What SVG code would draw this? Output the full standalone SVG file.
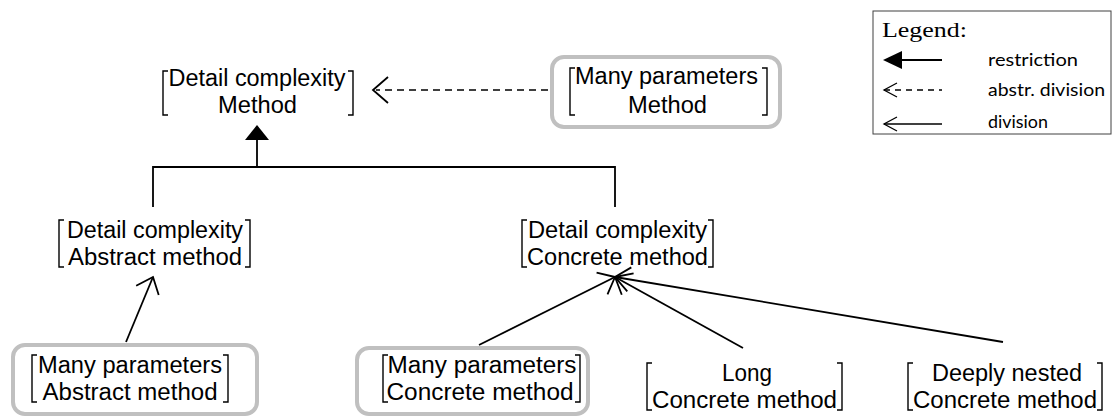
<svg xmlns="http://www.w3.org/2000/svg" width="1113" height="416" viewBox="0 0 1113 416">
<defs>
<style>
.t{font-family:"Liberation Sans",Arial,sans-serif;font-size:23px;fill:#000;text-anchor:middle}
.br{fill:none;stroke:#000;stroke-width:1.4}
.box{fill:none;stroke:#c0c0c0;stroke-width:4}
.ln{fill:none;stroke:#000;stroke-width:1.8}
.dash{fill:none;stroke:#000;stroke-width:1.5;stroke-dasharray:7,5}
.lg{font-family:Lato,"Open Sans",sans-serif;font-size:17px;fill:#000}
.lt{font-family:"Liberation Serif","Times New Roman",serif;font-size:21px;fill:#000}
</style>
<marker id="open" markerUnits="userSpaceOnUse" markerWidth="40" markerHeight="40" viewBox="-20 -20 40 40" refX="0" refY="0" orient="auto">
<path d="M-14.5,-12.2 L0,0 L-14.5,12.2" fill="none" stroke="#000" stroke-width="1.8"/>
</marker>
</defs>
<rect width="1113" height="416" fill="#fff"/>

<g id="connectors">
<path class="dash" d="M548,90 L376,90"/>
<path d="M388,77 L373,90 L388,103" class="ln" stroke-width="1.5"/>
<path d="M257,125 L245,140 L269,140 Z" fill="#000"/>
<path class="ln" d="M257,140 L257,167 M153,207 L153,167 L615,167 L615,207"/>
<path class="ln" d="M126,342 L153,277" marker-end="url(#open)"/>
<path class="ln" d="M479,345 L615,277" marker-end="url(#open)"/>
<path class="ln" d="M743,348 L615,277" marker-end="url(#open)"/>
<path class="ln" d="M1003,342 L615,277" marker-end="url(#open)"/>
</g>

<g id="node-dc-method">
<path class="br" d="M168,71 L163,71 L163,115 L168,115 M348,71 L353,71 L353,115 L348,115"/>
<text class="t" x="257" y="86" textLength="177" lengthAdjust="spacingAndGlyphs">Detail complexity</text>
<text class="t" x="257.5" y="113" textLength="79" lengthAdjust="spacingAndGlyphs">Method</text>
</g>

<g id="node-mp-method">
<rect class="box" x="552" y="57" width="228" height="70" rx="12"/>
<path class="br" d="M575,68 L570,68 L570,115 L575,115 M762,68 L767,68 L767,115 L762,115"/>
<text class="t" x="666.5" y="84" textLength="183" lengthAdjust="spacingAndGlyphs">Many parameters</text>
<text class="t" x="667.5" y="113" textLength="79" lengthAdjust="spacingAndGlyphs">Method</text>
</g>

<g id="node-dc-abstract">
<path class="br" d="M64,220 L59,220 L59,267 L64,267 M245,220 L250,220 L250,267 L245,267"/>
<text class="t" x="155" y="238" textLength="176" lengthAdjust="spacingAndGlyphs">Detail complexity</text>
<text class="t" x="155" y="265" textLength="174" lengthAdjust="spacingAndGlyphs">Abstract method</text>
</g>

<g id="node-dc-concrete">
<path class="br" d="M527,220 L522,220 L522,267 L527,267 M708,220 L713,220 L713,267 L708,267"/>
<text class="t" x="617.5" y="238" textLength="179" lengthAdjust="spacingAndGlyphs">Detail complexity</text>
<text class="t" x="617.5" y="265" textLength="181" lengthAdjust="spacingAndGlyphs">Concrete method</text>
</g>

<g id="node-mp-abstract">
<rect class="box" x="13" y="345" width="244" height="69" rx="12"/>
<path class="br" d="M37,355 L32,355 L32,402 L37,402 M223,355 L228,355 L228,402 L223,402"/>
<text class="t" x="130" y="373" textLength="184" lengthAdjust="spacingAndGlyphs">Many parameters</text>
<text class="t" x="130" y="400" textLength="175" lengthAdjust="spacingAndGlyphs">Abstract method</text>
</g>

<g id="node-mp-concrete">
<rect class="box" x="357" y="348" width="231" height="66" rx="12"/>
<path class="br" d="M388,355 L383,355 L383,402 L388,402 M575,355 L580,355 L580,402 L575,402"/>
<text class="t" x="482" y="373" textLength="189" lengthAdjust="spacingAndGlyphs">Many parameters</text>
<text class="t" x="480" y="400" textLength="187" lengthAdjust="spacingAndGlyphs">Concrete method</text>
</g>

<g id="node-long-concrete">
<path class="br" d="M652,363 L647,363 L647,410 L652,410 M837,363 L842,363 L842,410 L837,410"/>
<text class="t" x="747" y="381" textLength="50" lengthAdjust="spacingAndGlyphs">Long</text>
<text class="t" x="744.5" y="408" textLength="185" lengthAdjust="spacingAndGlyphs">Concrete method</text>
</g>

<g id="node-dn-concrete">
<path class="br" d="M913,363 L908,363 L908,410 L913,410 M1097,363 L1102,363 L1102,410 L1097,410"/>
<text class="t" x="1007" y="381" textLength="150" lengthAdjust="spacingAndGlyphs">Deeply nested</text>
<text class="t" x="1005" y="408" textLength="184" lengthAdjust="spacingAndGlyphs">Concrete method</text>
</g>

<g id="legend">
<rect x="873" y="11" width="238" height="123" fill="none" stroke="#404040" stroke-width="1"/>
<text class="lt" x="882" y="37" textLength="85" lengthAdjust="spacingAndGlyphs">Legend:</text>
<path d="M883,60 L902,51 L902,69 Z" fill="#000"/>
<path d="M900,60 L942,60" stroke="#000" stroke-width="2"/>
<text class="lg" x="988" y="66" textLength="90" lengthAdjust="spacingAndGlyphs">restriction</text>
<path d="M884,90 L942,90" stroke="#000" stroke-width="1.3" stroke-dasharray="6,5" fill="none"/>
<path d="M897,83 L884,90 L897,97" stroke="#000" stroke-width="1.3" fill="none"/>
<text class="lg" x="988" y="96" textLength="117" lengthAdjust="spacingAndGlyphs">abstr. division</text>
<path d="M884,124 L942,124" stroke="#000" stroke-width="1.3" fill="none"/>
<path d="M897,117 L884,124 L897,131" stroke="#000" stroke-width="1.3" fill="none"/>
<text class="lg" x="988" y="128" textLength="60" lengthAdjust="spacingAndGlyphs">division</text>
</g>
</svg>
